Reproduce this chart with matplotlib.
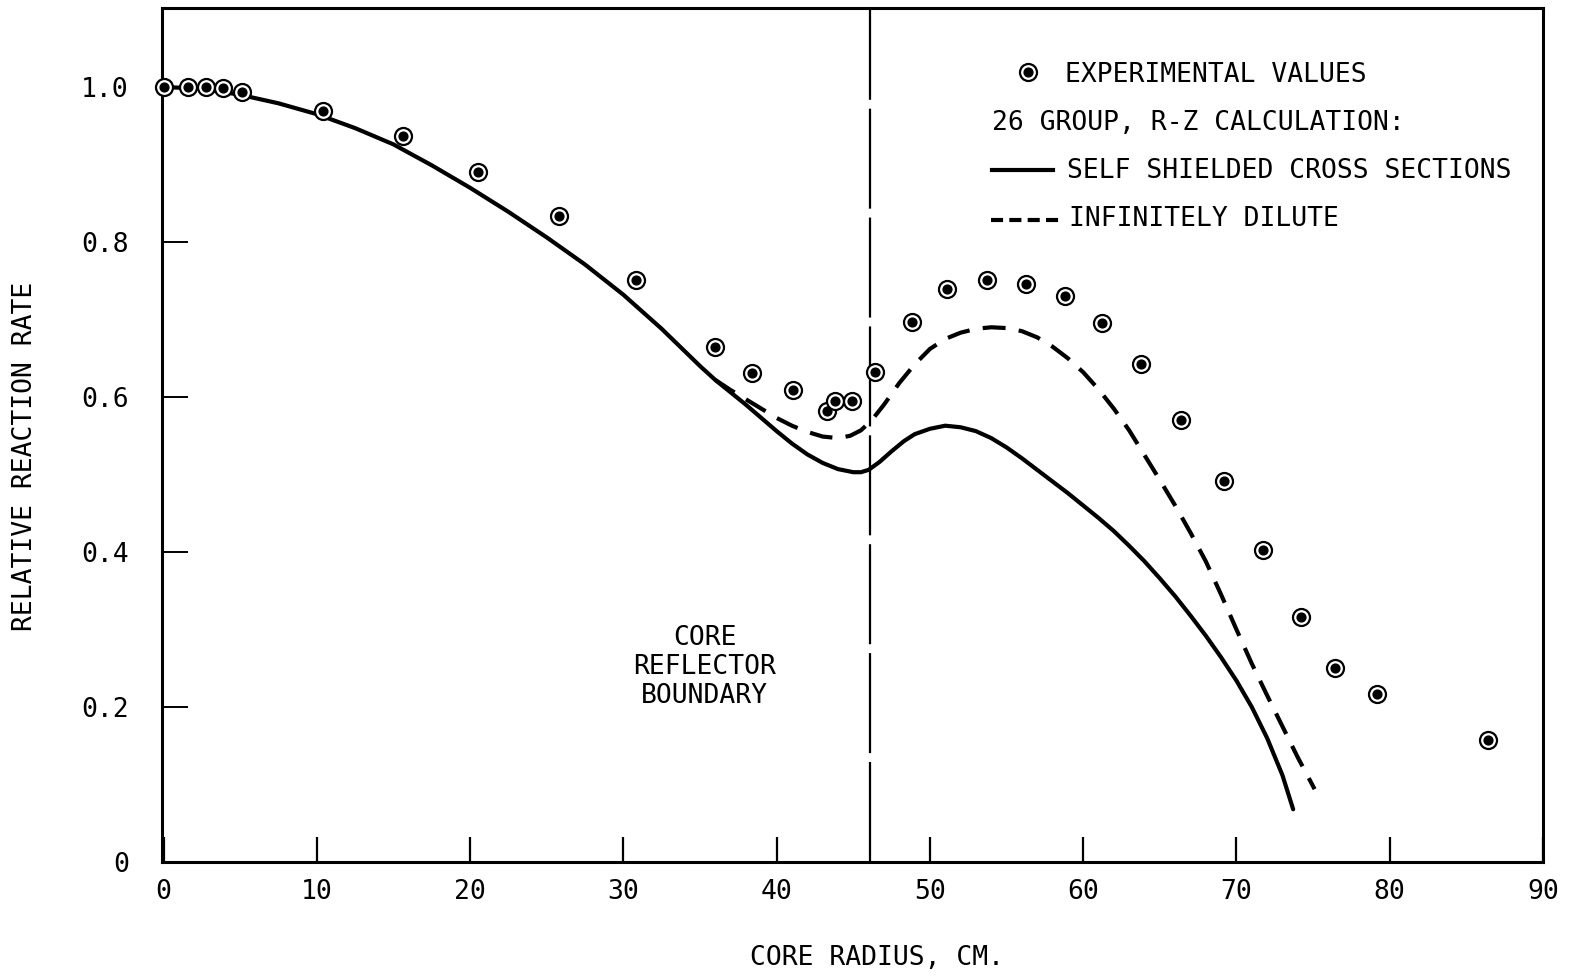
import numpy as np
import matplotlib
matplotlib.use("Agg")
import matplotlib.pyplot as plt

# experimental values
exp_r = [0.0, 1.6, 2.8, 3.9, 5.1, 10.4, 15.6, 20.5, 25.8, 30.8, 36.0, 38.4,
         41.1, 43.3, 43.8, 44.9, 46.4, 48.8, 51.1, 53.7, 56.3, 58.8, 61.2,
         63.8, 66.4, 69.2, 71.7, 74.2, 76.4, 79.2, 86.4]
exp_rate = [1.0, 1.0, 1.0, 0.999, 0.993, 0.969, 0.937, 0.890, 0.833, 0.751,
            0.665, 0.631, 0.609, 0.582, 0.595, 0.595, 0.632, 0.697, 0.740,
            0.751, 0.746, 0.731, 0.696, 0.642, 0.570, 0.492, 0.403, 0.316,
            0.250, 0.217, 0.157]

# 26 group R-Z calculation, self shielded cross sections
ss_r = [0, 2.5, 5, 7.5, 10, 12.5, 15, 17.5, 20, 22.5, 25, 27.5, 30, 32.5,
        35, 36, 37, 38, 39, 40, 41, 42, 43, 44, 45, 45.5, 46, 46.7, 47.5,
        48.3, 49, 50, 51, 52, 53, 54, 55, 56, 57, 58, 59, 60, 61, 62, 63,
        64, 65, 66, 67, 68, 69, 70, 71, 72, 73, 73.7]
ss_rate = [1.0, 0.998, 0.99, 0.979, 0.965, 0.947, 0.926, 0.899, 0.870,
           0.839, 0.806, 0.771, 0.732, 0.688, 0.640, 0.622, 0.606, 0.59,
           0.573, 0.556, 0.54, 0.526, 0.515, 0.507, 0.503, 0.503, 0.506,
           0.516, 0.53, 0.543, 0.552, 0.559, 0.563, 0.561, 0.556, 0.547,
           0.535, 0.521, 0.506, 0.491, 0.476, 0.46, 0.444, 0.427, 0.408,
           0.388, 0.366, 0.343, 0.318, 0.292, 0.264, 0.234, 0.2, 0.16,
           0.112, 0.068]

# infinitely dilute
id_r = [36, 37, 38, 39, 40, 41, 42, 43, 44, 44.8, 45.5, 46.2, 47, 48, 49,
        50, 51, 52, 53, 54, 55, 56, 57, 58, 59, 60, 61, 62, 63, 64, 65, 66,
        67, 68, 69, 70, 71, 72, 73, 74, 75.1]
id_rate = [0.622, 0.609, 0.597, 0.585, 0.573, 0.563, 0.555, 0.549, 0.547,
           0.55, 0.557, 0.57, 0.59, 0.618, 0.642, 0.662, 0.675, 0.683,
           0.688, 0.69, 0.689, 0.685, 0.677, 0.665, 0.65, 0.632, 0.61,
           0.585, 0.557, 0.525, 0.493, 0.46, 0.425, 0.388, 0.345, 0.3,
           0.256, 0.215, 0.175, 0.135, 0.094]

boundary_r = 46.1
xticks = [0, 10, 20, 30, 40, 50, 60, 70, 80, 90]
yticks = [0, 0.2, 0.4, 0.6, 0.8, 1.0]
ytick_labels = ["0", "0.2", "0.4", "0.6", "0.8", "1.0"]

FS = 19
plt.rcParams['font.family'] = ['DejaVu Sans Mono']

fig = plt.figure(figsize=(15.81, 9.8), dpi=100)
ax = fig.add_axes([162/1581, 1-862/980, 1381/1581, 854/980])

ax.plot(ss_r, ss_rate, color='black', lw=3, solid_capstyle='round',
        solid_joinstyle='round', zorder=2)
ax.plot(id_r, id_rate, color='black', lw=3, dashes=(5.5, 3.2), zorder=2)

ax.axvline(boundary_r, color='black', lw=1.6, dashes=(45, 4), zorder=1)

ax.scatter(exp_r, exp_rate, s=150, facecolor='white', edgecolor='black',
           linewidth=1.6, zorder=3, clip_on=False)
ax.scatter(exp_r, exp_rate, s=40, color='black', zorder=4, clip_on=False)

ax.text(35.3, 0.252, "CORE\nREFLECTOR\nBOUNDARY", ha='center', va='center',
        fontsize=FS, linespacing=1.15)

# legend drawn by hand
ax.scatter([0.627], [0.925], s=150, facecolor='white', edgecolor='black',
           linewidth=1.6, transform=ax.transAxes)
ax.scatter([0.627], [0.925], s=40, color='black', transform=ax.transAxes)
ax.text(0.654, 0.913, "EXPERIMENTAL VALUES", transform=ax.transAxes,
        fontsize=FS, va='baseline')
ax.text(0.601, 0.857, "26 GROUP, R-Z CALCULATION:", transform=ax.transAxes,
        fontsize=FS, va='baseline')
ax.plot([0.601, 0.645], [0.810, 0.810], color='black', lw=3,
        transform=ax.transAxes)
ax.text(0.655, 0.801, "SELF SHIELDED CROSS SECTIONS", transform=ax.transAxes,
        fontsize=FS, va='baseline')
ax.plot([0.600, 0.652], [0.752, 0.752], color='black', lw=3,
        dashes=(2.9, 1.5), transform=ax.transAxes)
ax.text(0.657, 0.745, "INFINITELY DILUTE", transform=ax.transAxes,
        fontsize=FS, va='baseline')

ax.set_xlim(-0.1, 90)
ax.set_ylim(0, 1.102)
ax.set_xticks(xticks)
ax.set_xticklabels([str(t) for t in xticks])
ax.set_yticks(yticks)
ax.set_yticklabels(ytick_labels)
ax.tick_params(axis='x', direction='in', length=18, width=1.6, pad=12,
               labelsize=FS)
ax.tick_params(axis='y', direction='in', length=19, width=1.4, pad=24,
               labelsize=FS)
for sp in ax.spines.values():
    sp.set_linewidth(2.2)

fig.text(25/1581, 1-456/980, "RELATIVE REACTION RATE", rotation=90,
         ha='center', va='center', fontsize=FS)
fig.text(877/1581, 1-958/980, "CORE RADIUS, CM.", ha='center', va='center',
         fontsize=FS)

fig.savefig("out.png", dpi=100)
